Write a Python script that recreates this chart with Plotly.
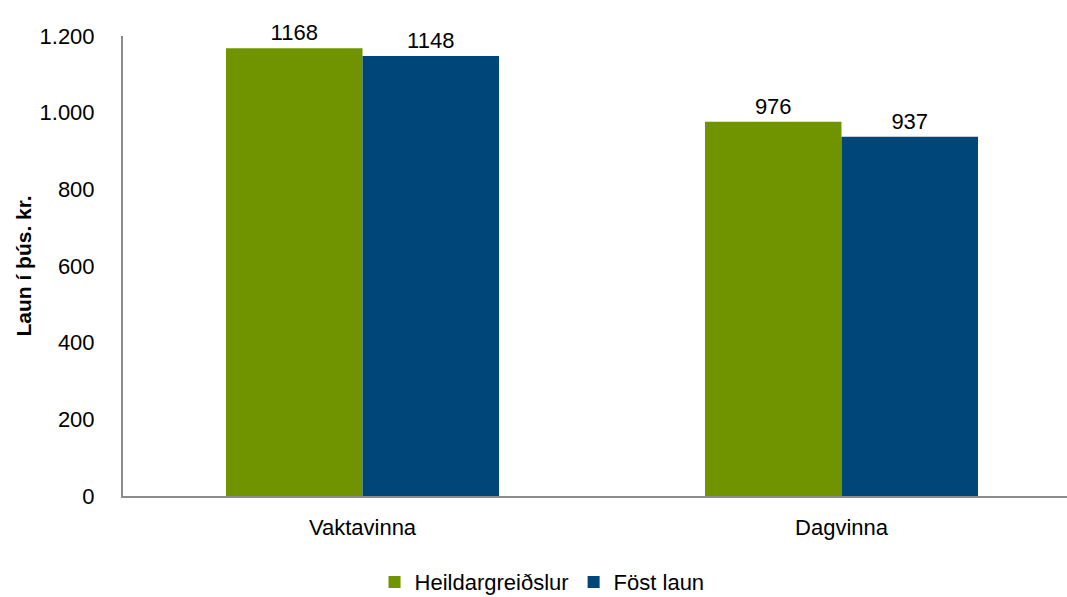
import plotly.graph_objects as go

# Monthly pay by work arrangement (thousand ISK)
categories = ["Vaktavinna", "Dagvinna"]
series_names = ["Heildargreiðslur", "Föst laun"]
heildargreidslur = [1168, 976]
fost_laun = [1148, 937]
y_ticks = [0, 200, 400, 600, 800, 1000, 1200]

colors = ["#709300", "#004678"]
font_family = "Liberation Sans, Arial, sans-serif"

fig = go.Figure()
for name, vals, col in zip(series_names, [heildargreidslur, fost_laun], colors):
    fig.add_trace(go.Bar(
        x=categories,
        y=vals,
        name=name,
        marker=dict(color=col, line=dict(width=0)),
        text=[str(v) for v in vals],
        textposition="outside",
        textfont=dict(size=22, color="#000000", family=font_family),
        cliponaxis=False,
    ))

fig.update_layout(
    width=1067,
    height=597,
    barmode="group",
    bargap=0.43,
    bargroupgap=0,
    separators=",.",
    plot_bgcolor="white",
    paper_bgcolor="white",
    font=dict(family=font_family, size=22, color="#000000"),
    margin=dict(l=123, r=0, t=36, b=101, autoexpand=False),
    showlegend=True,
    legend=dict(
        orientation="h",
        xref="container", yref="container",
        x=0.508, xanchor="center",
        y=0.025, yanchor="middle",
        font=dict(size=22),
        itemwidth=30,
        traceorder="normal",
    ),
    xaxis=dict(
        range=[-0.5, 1.4708],
        showline=True, linecolor="#8c8c8c", linewidth=2,
        ticks="", showgrid=False, automargin=False,
        tickfont=dict(size=22),
        ticklabelstandoff=11,
    ),
    yaxis=dict(
        range=[0, 1200],
        tickvals=y_ticks,
        tickformat=",",
        showline=True, linecolor="#8c8c8c", linewidth=2,
        ticks="", showgrid=False, zeroline=False, automargin=False,
        tickfont=dict(size=22),
        ticklabelstandoff=22,
        title=dict(text="<b>Laun í þús. kr.</b>", font=dict(size=21), standoff=2),
    ),
)

fig.write_html("out.html")
